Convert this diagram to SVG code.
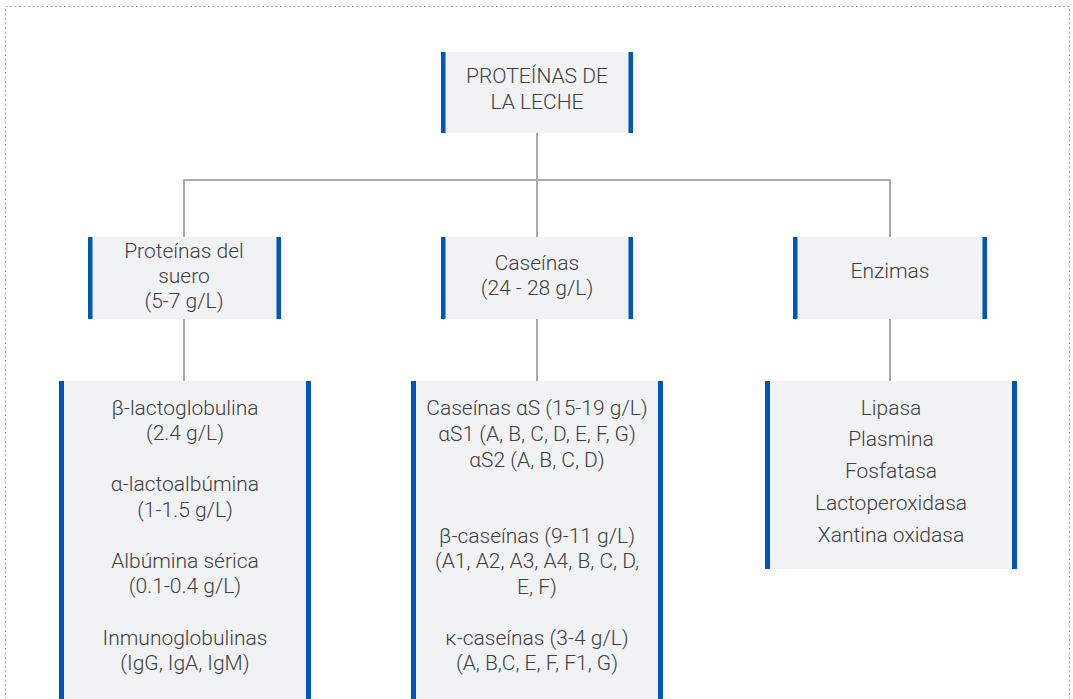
<svg xmlns="http://www.w3.org/2000/svg" width="1073" height="699" viewBox="0 0 1073 699">
<style>
.box{fill:#f1f2f4}
.bar{fill:#0055b8}
.t{font-family:Roboto,"Liberation Sans",sans-serif;font-weight:300;font-size:21px;fill:#404040;text-anchor:middle}
.c{stroke:#a9a9a9;stroke-width:2;fill:none}
</style>
<rect x="5.5" y="6.5" width="1064" height="700" fill="none" stroke="#a0a0a0" stroke-width="1" stroke-dasharray="2,2.5"/>
<g id="connectors">
<path class="c" d="M537 133V180M184 180H890M184 179V237M537 179V237M890 179V237"/>
<path class="c" d="M184 319V381M537 319V381M890 319V381"/>
</g>
<g id="root">
<rect class="box" x="441" y="52" width="192" height="81"/>
<rect class="bar" x="441" y="52" width="4.5" height="81"/>
<rect class="bar" x="628.5" y="52" width="4.5" height="81"/>
<text class="t" x="537" y="83">PROTEÍNAS DE</text>
<text class="t" x="537" y="109">LA LECHE</text>
</g>
<g id="suero">
<rect class="box" x="88" y="237" width="193" height="82"/>
<rect class="bar" x="88" y="237" width="4.5" height="82"/>
<rect class="bar" x="276.5" y="237" width="4.5" height="82"/>
<text class="t" x="184" y="258">Proteínas del</text>
<text class="t" x="184" y="283">suero</text>
<text class="t" x="184" y="308">(5-7 g/L)</text>
</g>
<g id="caseinas">
<rect class="box" x="441" y="237" width="192" height="82"/>
<rect class="bar" x="441" y="237" width="4.5" height="82"/>
<rect class="bar" x="628.5" y="237" width="4.5" height="82"/>
<text class="t" x="537" y="270">Caseínas</text>
<text class="t" x="537" y="295">(24 - 28 g/L)</text>
</g>
<g id="enzimas">
<rect class="box" x="793" y="237" width="194" height="82"/>
<rect class="bar" x="793" y="237" width="4.5" height="82"/>
<rect class="bar" x="982.5" y="237" width="4.5" height="82"/>
<text class="t" x="890" y="278">Enzimas</text>
</g>
<g id="suero-list">
<rect class="box" x="59" y="381" width="252" height="330"/>
<rect class="bar" x="59" y="381" width="5" height="330"/>
<rect class="bar" x="306" y="381" width="5" height="330"/>
<text class="t" x="185" y="415">β-lactoglobulina</text>
<text class="t" x="185" y="440">(2.4 g/L)</text>
<text class="t" x="185" y="491">α-lactoalbúmina</text>
<text class="t" x="185" y="517">(1-1.5 g/L)</text>
<text class="t" x="185" y="568">Albúmina sérica</text>
<text class="t" x="185" y="593">(0.1-0.4 g/L)</text>
<text class="t" x="185" y="645">Inmunoglobulinas</text>
<text class="t" x="185" y="670">(IgG, IgA, IgM)</text>
</g>
<g id="caseinas-list">
<rect class="box" x="411" y="381" width="252" height="330"/>
<rect class="bar" x="411" y="381" width="5" height="330"/>
<rect class="bar" x="658" y="381" width="5" height="330"/>
<text class="t" x="537" y="415">Caseínas αS (15-19 g/L)</text>
<text class="t" x="537" y="441">αS1 (A, B, C, D, E, F, G)</text>
<text class="t" x="537" y="467">αS2 (A, B, C, D)</text>
<text class="t" x="537" y="543">β-caseínas (9-11 g/L)</text>
<text class="t" x="537" y="568">(A1, A2, A3, A4, B, C, D,</text>
<text class="t" x="537" y="594">E, F)</text>
<text class="t" x="537" y="645">κ-caseínas (3-4 g/L)</text>
<text class="t" x="537" y="670">(A, B,C, E, F, F1, G)</text>
</g>
<g id="enzimas-list">
<rect class="box" x="765" y="381" width="252" height="188"/>
<rect class="bar" x="765" y="381" width="5" height="188"/>
<rect class="bar" x="1012" y="381" width="5" height="188"/>
<text class="t" x="891" y="415">Lipasa</text>
<text class="t" x="891" y="446">Plasmina</text>
<text class="t" x="891" y="478">Fosfatasa</text>
<text class="t" x="891" y="510">Lactoperoxidasa</text>
<text class="t" x="891" y="542">Xantina oxidasa</text>
</g>
</svg>
